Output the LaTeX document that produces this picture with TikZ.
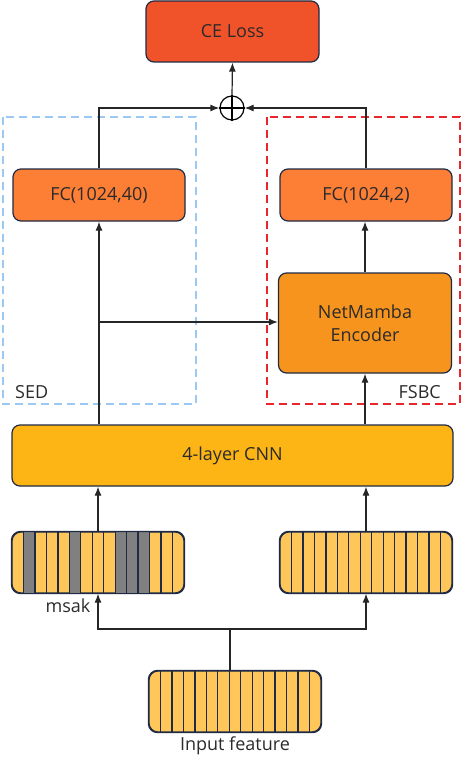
\documentclass[tikz,border=0pt]{standalone}
\usepackage{fontspec}
\setmainfont{Open Sans}
\usetikzlibrary{arrows.meta}
\definecolor{edge}{HTML}{1F2A44}
\definecolor{celoss}{HTML}{F0522A}
\definecolor{fcc}{HTML}{FD7E35}
\definecolor{nmc}{HTML}{F7941D}
\definecolor{cnnc}{HTML}{FDB515}
\definecolor{stripc}{HTML}{FFC65A}
\definecolor{grayc}{HTML}{808080}
\definecolor{sedc}{HTML}{9CC8F4}
\definecolor{fsbcc}{HTML}{E8262B}
\definecolor{txt}{HTML}{2B2B2B}
\newcommand\mystripcells[5]{%
  \foreach \k in {#5} {\fill[grayc] ({#1+(\k-1)*#3/15},#2) rectangle ({#1+\k*#3/15},#2+#4);}
  \foreach \k in {1,...,14} {\draw[edge, line width=1.3pt] ({#1+\k*#3/15},#2) -- ({#1+\k*#3/15},#2+#4);}
}
\begin{document}
\begin{tikzpicture}[x=1pt,y=-1pt,
  blk/.style={draw=edge, line width=1.2pt, rounded corners=8pt, inner sep=0pt, text=txt, font=\fontsize{18}{23}\selectfont, align=center},
  strip/.style={draw=edge, line width=1.2pt, rounded corners=9pt, fill=stripc, minimum width=172pt, minimum height=61pt, inner sep=0pt},
  stripedge/.style={draw=edge, line width=1.2pt, rounded corners=9pt},
  conn/.style={draw=black!85, line width=1.2pt},
  arr/.style={conn, -{Latex[length=9pt,width=7pt]}},
  lbl/.style={text=txt, font=\fontsize{18}{23}\selectfont, inner sep=0pt},
  dashbox/.style={line width=1.3pt, dash pattern=on 8pt off 5pt},
]
\useasboundingbox (0,0) rectangle (462,760);

% dashed groups
\draw[dashbox, sedc] (3,117) rectangle (196,404);
\draw[dashbox, fsbcc] (267,117) rectangle (460,404);

% blocks
\node[blk, fill=celoss, minimum width=173pt, minimum height=61pt] (ce) at (232.5,31.5) {CE Loss};
\node[draw=black, line width=1.2pt, circle, minimum size=24pt, inner sep=0pt, fill=white] (plus) at (232,108) {};
\draw[black, line width=1.2pt] (plus.north) -- (plus.south) (plus.west) -- (plus.east);
\node[blk, fill=fcc, minimum width=172pt, minimum height=52pt] (fc40) at (99,195) {FC(1024,40)};
\node[blk, fill=fcc, minimum width=172pt, minimum height=52pt] (fc2) at (366,195) {FC(1024,2)};
\node[blk, fill=nmc, minimum width=173pt, minimum height=100pt] (nm) at (365,323) {NetMamba\\Encoder};
\node[blk, fill=cnnc, minimum width=441pt, minimum height=61pt] (cnn) at (232.5,455.5) {4-layer CNN};

% strips
\node[strip] (sL) at (98,562.5) {};
\mystripcells{12}{532}{172}{61}{2,6,10,11,12}
\draw[stripedge] (sL.north west) rectangle (sL.south east);
\node[strip] (sR) at (366,562.5) {};
\mystripcells{280}{532}{172}{61}{}
\draw[stripedge] (sR.north west) rectangle (sR.south east);
\node[strip] (sI) at (235,701.5) {};
\mystripcells{149}{671}{172}{61}{}
\draw[stripedge] (sI.north west) rectangle (sI.south east);

% labels
\node[lbl, anchor=west] (sed) at (15,392) {SED};
\node[lbl, anchor=east] (fsbc) at (441,392) {FSBC};
\node[lbl] (msak) at (68,606) {msak};
\node[lbl] (inp) at (235,746) {Input feature};

% connectors
\draw[arr] (plus.north) -- (ce.south);
\draw[arr] (fc40.north) |- (plus.west);
\draw[arr] (fc2.north) |- (plus.east);
\draw[arr] (cnn.north -| fc40.south) -- (fc40.south);
\coordinate (br) at (99,322);
\draw[arr] (br) -- (br -| nm.west);
\draw[arr] (cnn.north -| nm.south) -- (nm.south);
\draw[arr] (nm.north) -- (nm.north |- fc2.south);
\draw[arr] (sL.north) -- (sL.north |- cnn.south);
\draw[arr] (sR.north) -- (sR.north |- cnn.south);
\coordinate (ib) at (230,629);
\draw[conn] (sI.north -| ib) -- (ib);
\draw[arr] (ib) -| (sL.south);
\draw[arr] (ib) -| (sR.south);
\end{tikzpicture}
\end{document}
